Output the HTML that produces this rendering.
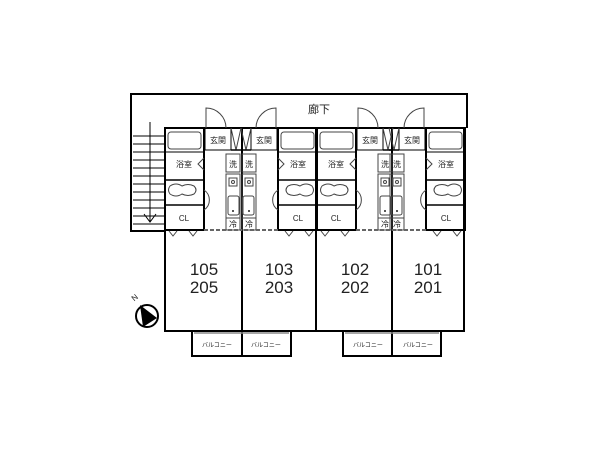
<!DOCTYPE html>
<html><head><meta charset="utf-8"><style>
body{margin:0;background:#fff}
svg{display:block}
text{font-family:"Liberation Sans","Noto Sans CJK JP",sans-serif;fill:#222}
</style></head><body>
<svg width="600" height="450" viewBox="0 0 600 450" xmlns="http://www.w3.org/2000/svg">
<defs>
<g id="u">
  <rect x="0" y="128" width="39" height="102" fill="none" stroke="#000" stroke-width="2"/>
  <rect x="3" y="132" width="33" height="17" rx="3" fill="none" stroke="#444" stroke-width="1"/>
  <line x1="0" y1="152" x2="39" y2="152" stroke="#000" stroke-width="1"/>
  <polyline points="39,158 33,164 39,170" fill="none" stroke="#444" stroke-width="1"/>
  <line x1="0" y1="180" x2="39" y2="180" stroke="#000" stroke-width="1.5"/>
  <path d="M5,186 q6,-4 12,0 q6,-3 12,0 q4,4 0,8 q-6,3 -12,0 q-6,4 -12,0 q-3,-4 0,-8z" fill="none" stroke="#444" stroke-width="1"/>
  <line x1="0" y1="205" x2="39" y2="205" stroke="#000" stroke-width="1.5"/>
  <path d="M39,190 a12,12 0 0 1 0,20" fill="none" stroke="#444" stroke-width="1"/>
  <rect x="40" y="128" width="26" height="22" fill="none" stroke="#000" stroke-width="1"/>
  <path d="M41,128 v-20 a20,20 0 0 1 20,20" fill="none" stroke="#444" stroke-width="1"/>
  <polyline points="66,128 71,150 76,128" fill="none" stroke="#444" stroke-width="1"/>
  <line x1="66" y1="150" x2="76" y2="150" stroke="#000" stroke-width="1.5"/>
  <rect x="61" y="154" width="14" height="18" fill="none" stroke="#444" stroke-width="1"/>
  <rect x="61" y="174" width="14" height="44" fill="none" stroke="#444" stroke-width="1"/>
  <rect x="64" y="178" width="8" height="8" fill="none" stroke="#444" stroke-width="1"/>
  <circle cx="68" cy="182" r="1.5" fill="none" stroke="#444"/>
  <rect x="63" y="196" width="11" height="19" rx="2" fill="none" stroke="#444" stroke-width="1"/>
  <circle cx="68" cy="211" r="1" fill="#222"/>
  <rect x="61" y="218" width="14" height="12" fill="none" stroke="#444" stroke-width="1"/>
  <line x1="39" y1="230" x2="76" y2="230" stroke="#666" stroke-width="2" stroke-dasharray="4,2"/>
  <polyline points="4,231 8,236 12,231" fill="none" stroke="#444"/>
  <polyline points="24,231 28,236 32,231" fill="none" stroke="#444"/>
</g>
</defs>
<polyline points="165,231 131,231 131,94 467,94 467,128" fill="none" stroke="#000" stroke-width="2"/>
<text x="319" y="113" font-size="11" text-anchor="middle">廊下</text>
<g stroke="#000" stroke-width="1">
<line x1="133" y1="136" x2="165" y2="136"/><line x1="133" y1="144" x2="165" y2="144"/>
<line x1="133" y1="152" x2="165" y2="152"/><line x1="133" y1="160" x2="165" y2="160"/>
<line x1="133" y1="168" x2="165" y2="168"/><line x1="133" y1="176" x2="165" y2="176"/>
<line x1="133" y1="184" x2="165" y2="184"/><line x1="133" y1="192" x2="165" y2="192"/>
<line x1="133" y1="200" x2="165" y2="200"/><line x1="133" y1="208" x2="165" y2="208"/>
<line x1="133" y1="216" x2="165" y2="216"/><line x1="133" y1="224" x2="165" y2="224"/>
<line x1="150" y1="122" x2="150" y2="222"/>
<polyline points="144,214 150,222 156,214" fill="none"/>
</g>
<rect x="165" y="128" width="299" height="203" fill="none" stroke="#000" stroke-width="2"/>
<g stroke="#000" stroke-width="2">
<line x1="242" y1="128" x2="242" y2="356"/>
<line x1="316" y1="128" x2="316" y2="331"/>
<line x1="392" y1="128" x2="392" y2="356"/>
</g>
<use href="#u" transform="translate(165,0)"/>
<use href="#u" transform="translate(317,0) scale(-1,1)"/>
<use href="#u" transform="translate(317,0)"/>
<use href="#u" transform="translate(465,0) scale(-1,1)"/>
<g font-size="8" text-anchor="middle">
<!-- unit 1 base 165 -->
<text x="184" y="167">浴室</text><text x="184" y="221">CL</text><text x="218" y="143">玄関</text><text x="233" y="167">洗</text><text x="233" y="227">冷</text>
<!-- unit 2 mirrored 317 -->
<text x="298" y="167">浴室</text><text x="298" y="221">CL</text><text x="264" y="143">玄関</text><text x="249" y="167">洗</text><text x="249" y="227">冷</text>
<!-- unit 3 base 317 -->
<text x="336" y="167">浴室</text><text x="336" y="221">CL</text><text x="370" y="143">玄関</text><text x="385" y="167">洗</text><text x="385" y="227">冷</text>
<!-- unit 4 mirrored 465 -->
<text x="446" y="167">浴室</text><text x="446" y="221">CL</text><text x="412" y="143">玄関</text><text x="397" y="167">洗</text><text x="397" y="227">冷</text>
</g>
<g font-size="17" text-anchor="middle">
<text x="204" y="275">105</text><text x="204" y="293">205</text>
<text x="279" y="275">103</text><text x="279" y="293">203</text>
<text x="355" y="275">102</text><text x="355" y="293">202</text>
<text x="428" y="275">101</text><text x="428" y="293">201</text>
</g>
<g fill="none" stroke="#000" stroke-width="2">
<polyline points="192,331 192,356 291,356 291,331"/>
<polyline points="343,331 343,356 441,356 441,331"/>
</g>
<g stroke="#888" stroke-width="1.5">
<line x1="194" y1="333" x2="289" y2="333"/><line x1="345" y1="333" x2="439" y2="333"/>
</g>
<g font-size="6" text-anchor="middle">
<text x="217" y="347">バルコニー</text><text x="266" y="347">バルコニー</text>
<text x="368" y="347">バルコニー</text><text x="418" y="347">バルコニー</text>
</g>
<circle cx="147" cy="316" r="11" fill="#fff" stroke="#000" stroke-width="2"/>
<polygon points="140,305 157,318 143,327" fill="#000"/>
<text x="133" y="302" font-size="8" transform="rotate(-40 133 300)">N</text>
</svg>
</body></html>
